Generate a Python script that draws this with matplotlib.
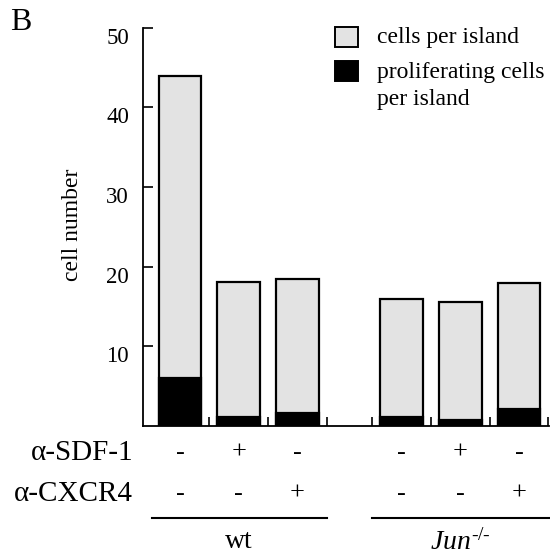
import numpy as np
import matplotlib
matplotlib.use("Agg")
import matplotlib.pyplot as plt
from matplotlib.patches import Rectangle
from matplotlib.transforms import blended_transform_factory

plt.rcParams['font.family'] = ['Liberation Serif', 'DejaVu Serif']
plt.rcParams['mathtext.fontset'] = 'custom'
plt.rcParams['mathtext.rm'] = 'Liberation Serif'
plt.rcParams['mathtext.it'] = 'Liberation Serif:italic'

# data
total_cells = [44.0, 18.1, 18.5, 16.0, 15.6, 18.0]
prolif_cells = [6.0, 1.1, 1.6, 1.1, 0.75, 2.1]
sdf1 = ['-', '+', '-', '-', '+', '-']
cxcr4 = ['-', '-', '+', '-', '-', '+']
groups = ['wt', r'$\mathit{Jun}^{\text{-/-}}$']
yticks = [10, 20, 30, 40, 50]
legend_labels = ['cells per island', 'proliferating cells', 'per island']

# bar positions (gap between the two genotypes)
pos = np.array([0, 1, 2, 3.78, 4.78, 5.78])
width = 0.73
light = '#e3e3e3'

fig = plt.figure(figsize=(5.5, 5.56), dpi=100)
ax = fig.add_axes([0.26, 0.234, 0.738, 0.716])

ax.bar(pos, total_cells, width, color=light, edgecolor='black', linewidth=1.6, zorder=2)
ax.bar(pos, prolif_cells, width, color='black', edgecolor='black', linewidth=1.6, zorder=3)

ax.set_xlim(-0.63, 6.29)
ax.set_ylim(0, 50)
ax.set_yticks(yticks)
ax.tick_params(axis='y', direction='in', length=7, width=1.2, labelsize=16.5, pad=10)
for lbl in ax.get_yticklabels():
    lbl.set_verticalalignment('top')
bounds = [0.5, 1.5, 2.5, 3.28, 4.28, 5.28, 6.28]
ax.set_xticks(bounds)
ax.set_xticklabels([])
ax.tick_params(axis='x', direction='in', length=6.5, width=1.2)
for s in ['top', 'right']:
    ax.spines[s].set_visible(False)
ax.spines['left'].set_linewidth(1.3)
ax.spines['bottom'].set_linewidth(1.3)

fig.text(73 / 550, 1 - 225 / 556, 'cell number', rotation=90, ha='center', va='center',
         fontsize=17)

# treatment rows under the bars
tr = blended_transform_factory(ax.transData, fig.transFigure)
row_y = [1 - 453 / 556, 1 - 494 / 556]
fig.text(133 / 550, row_y[0], '\u03b1-SDF-1', ha='right', va='center', fontsize=21)
fig.text(133 / 550, row_y[1], '\u03b1-CXCR4', ha='right', va='center', fontsize=21)
for x, a, b in zip(pos, sdf1, cxcr4):
    ax.text(x, row_y[0], a, transform=tr, ha='center', va='center', fontsize=19)
    ax.text(x, row_y[1], b, transform=tr, ha='center', va='center', fontsize=19)

# genotype brackets
line_y = 1 - 518 / 556
label_y = 1 - 542 / 556
spans = [(-0.48, 2.5), (3.28, 6.29)]
for (x0, x1), g in zip(spans, groups):
    ax.plot([x0, x1], [line_y, line_y], color='black', lw=1.5, transform=tr, clip_on=False)
    ax.text((x0 + x1) / 2, label_y, g, transform=tr, ha='center', va='center', fontsize=20)

fig.text(10 / 550, 1 - 22 / 556, 'B', ha='left', va='center', fontsize=23)

# legend drawn by hand so the black square sits on the first text line
W, H = 550, 556
for top, fc in [(27, light), (61, 'black')]:
    fig.patches.append(Rectangle((335 / W, 1 - (top + 20) / H), 23 / W, 20 / H,
                                 facecolor=fc, edgecolor='black', linewidth=1.4,
                                 transform=fig.transFigure))
for base, txt in zip([43, 78, 105], legend_labels):
    fig.text(377 / W, 1 - base / H, txt, ha='left', va='baseline', fontsize=17)

fig.savefig('out.png', dpi=100)
